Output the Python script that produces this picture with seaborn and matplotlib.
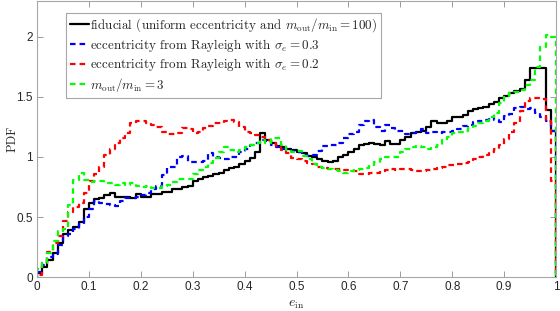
import numpy as np
import pandas as pd
import matplotlib
matplotlib.use("Agg")
import matplotlib.pyplot as plt
import seaborn as sns

# histogram heights (PDF) for e_in bins of width 0.01
fiducial = [0.03, 0.08, 0.14, 0.20, 0.28, 0.36, 0.39, 0.42, 0.46, 0.57,
            0.62, 0.65, 0.66, 0.68, 0.70, 0.67, 0.67, 0.67, 0.66, 0.69,
            0.67, 0.67, 0.69, 0.69, 0.71, 0.71, 0.73, 0.73, 0.75, 0.76,
            0.80, 0.82, 0.83, 0.84, 0.86, 0.87, 0.89, 0.91, 0.92, 0.94,
            0.97, 0.99, 1.04, 1.20, 1.14, 1.12, 1.09, 1.08, 1.07, 1.06,
            1.04, 1.03, 1.01, 1.00, 0.98, 0.97, 0.96, 0.97, 1.00, 1.02,
            1.04, 1.07, 1.10, 1.11, 1.12, 1.11, 1.10, 1.13, 1.11, 1.11,
            1.14, 1.17, 1.20, 1.21, 1.22, 1.25, 1.30, 1.28, 1.28, 1.30,
            1.33, 1.33, 1.35, 1.38, 1.40, 1.41, 1.42, 1.44, 1.46, 1.49,
            1.51, 1.53, 1.55, 1.57, 1.64, 1.74, 1.74, 1.74, 1.39, 1.22]
rayleigh_03 = [0.04, 0.10, 0.17, 0.19, 0.27, 0.34, 0.36, 0.40, 0.44, 0.50,
               0.57, 0.63, 0.62, 0.61, 0.60, 0.59, 0.63, 0.66, 0.66, 0.67,
               0.68, 0.70, 0.73, 0.76, 0.85, 0.92, 0.92, 1.00, 1.01, 0.96,
               0.96, 0.96, 0.97, 1.03, 1.00, 0.99, 0.98, 1.00, 1.00, 1.04,
               1.07, 1.10, 1.12, 1.14, 1.13, 1.10, 1.08, 1.07, 1.06, 1.05,
               1.04, 1.02, 1.01, 1.02, 1.05, 1.09, 1.10, 1.10, 1.12, 1.16,
               1.19, 1.21, 1.27, 1.30, 1.31, 1.25, 1.22, 1.27, 1.24, 1.22,
               1.22, 1.19, 1.20, 1.21, 1.23, 1.20, 1.21, 1.20, 1.21, 1.21,
               1.22, 1.23, 1.26, 1.27, 1.29, 1.30, 1.31, 1.33, 1.31, 1.29,
               1.34, 1.36, 1.41, 1.42, 1.40, 1.41, 1.37, 1.33, 1.30, 1.22]
rayleigh_02 = [0.02, 0.12, 0.21, 0.28, 0.34, 0.47, 0.54, 0.58, 0.62, 0.70,
               0.80, 0.86, 0.92, 1.02, 1.07, 1.12, 1.16, 1.20, 1.28, 1.30,
               1.30, 1.28, 1.27, 1.25, 1.21, 1.19, 1.19, 1.20, 1.24, 1.23,
               1.20, 1.21, 1.24, 1.26, 1.28, 1.28, 1.30, 1.31, 1.29, 1.25,
               1.21, 1.20, 1.18, 1.17, 1.14, 1.12, 1.09, 1.06, 1.03, 0.99,
               0.98, 0.97, 0.95, 0.94, 0.92, 0.91, 0.90, 0.90, 0.90, 0.89,
               0.88, 0.88, 0.86, 0.86, 0.87, 0.87, 0.88, 0.89, 0.90, 0.89,
               0.90, 0.90, 0.89, 0.88, 0.88, 0.89, 0.90, 0.91, 0.92, 0.93,
               0.93, 0.94, 0.95, 0.96, 0.98, 1.00, 1.02, 1.04, 1.07, 1.10,
               1.15, 1.21, 1.28, 1.38, 1.47, 1.49, 1.49, 1.48, 1.30, 0.80]
mass_ratio_3 = [0.07, 0.12, 0.20, 0.30, 0.38, 0.40, 0.60, 0.81, 0.87, 0.81,
                0.79, 0.80, 0.80, 0.78, 0.78, 0.77, 0.78, 0.77, 0.78, 0.76,
                0.75, 0.76, 0.74, 0.74, 0.76, 0.77, 0.79, 0.82, 0.82, 0.82,
                0.86, 0.89, 0.92, 0.95, 0.99, 1.04, 1.08, 1.06, 1.04, 1.06,
                1.08, 1.10, 1.12, 1.14, 1.12, 1.16, 1.16, 1.10, 1.06, 1.04,
                1.05, 1.01, 0.98, 0.94, 0.92, 0.91, 0.90, 0.89, 0.88, 0.87,
                0.88, 0.89, 0.90, 0.91, 0.93, 0.96, 0.98, 1.00, 1.00, 1.00,
                1.04, 1.07, 1.08, 1.09, 1.08, 1.07, 1.08, 1.10, 1.14, 1.17,
                1.20, 1.21, 1.22, 1.24, 1.26, 1.28, 1.30, 1.33, 1.37, 1.45,
                1.50, 1.53, 1.54, 1.56, 1.60, 1.64, 1.75, 1.92, 2.02, 2.00]

labels = [r"fiducial (uniform eccentricity and $m_{\rm out}/m_{\rm in}=100$)",
          r"eccentricity from Rayleigh with $\sigma_e=0.3$",
          r"eccentricity from Rayleigh with $\sigma_e=0.2$",
          r"$m_{\rm out}/m_{\rm in}=3$"]
colors = ["black", "#0000ff", "#ff0000", "#00ff00"]
styles = ["-", (0, (2.5, 1.8)), (0, (2.5, 1.8)), (0, (2.5, 1.8))]

sns.set_style("ticks")
plt.rcParams["font.family"] = ["Liberation Sans", "DejaVu Sans"]
plt.rcParams["mathtext.fontset"] = "cm"

# bins of 0.01 on [0, 1], padded with an empty bin each side so the steps drop to 0
edges = np.linspace(-0.01, 1.01, 103)
centers = (edges[:-1] + edges[1:]) / 2

fig = plt.figure(figsize=(5.6, 3.11), dpi=100)
ax = fig.add_axes([37 / 560, 1 - 277 / 311, (556 - 37) / 560, 276 / 311])

for vals, lab, col, ls in zip([fiducial, rayleigh_03, rayleigh_02, mass_ratio_3], labels, colors, styles):
    df = pd.DataFrame({"e_in": centers, "pdf": [0.0] + list(vals) + [0.0]})
    sns.histplot(data=df, x="e_in", weights="pdf", bins=list(edges), stat="count",
                 element="step", fill=False, color=col, linestyle=ls,
                 linewidth=1.6, label=lab, ax=ax)

ax.set_xlim(0, 1)
ax.set_ylim(0, 2.3)
ax.set_xticks(np.arange(0, 1.01, 0.1))
ax.set_yticks([0, 0.5, 1, 1.5, 2])
ax.set_xticklabels(["0", "0.1", "0.2", "0.3", "0.4", "0.5", "0.6", "0.7", "0.8", "0.9", "1"])
ax.set_yticklabels(["0", "0.5", "1", "1.5", "2"])
ax.tick_params(direction="in", top=True, right=True, length=4, width=0.6,
               color="#8c8c8c", labelsize=8.5, labelcolor="#262626", pad=3)
for sp in ax.spines.values():
    sp.set_color("#a6a6a6")
    sp.set_linewidth(0.8)

ax.set_xlabel(r"$e_{\rm in}$", fontsize=10, color="#262626", labelpad=3)
ax.set_ylabel("PDF", family="cmr10", fontsize=9, color="#262626")
ax.yaxis.set_label_coords(-0.036, 0.5)

leg = ax.legend(loc="upper left", bbox_to_anchor=(0.056, 0.958), borderaxespad=0,
                prop={"family": "cmr10", "size": 9.4}, fancybox=False, framealpha=1,
                edgecolor="#a6a6a6", handlelength=1.45, handletextpad=0.1,
                labelspacing=0.2, borderpad=0.28)
leg.get_frame().set_linewidth(0.8)

fig.savefig("out.png", dpi=100)
